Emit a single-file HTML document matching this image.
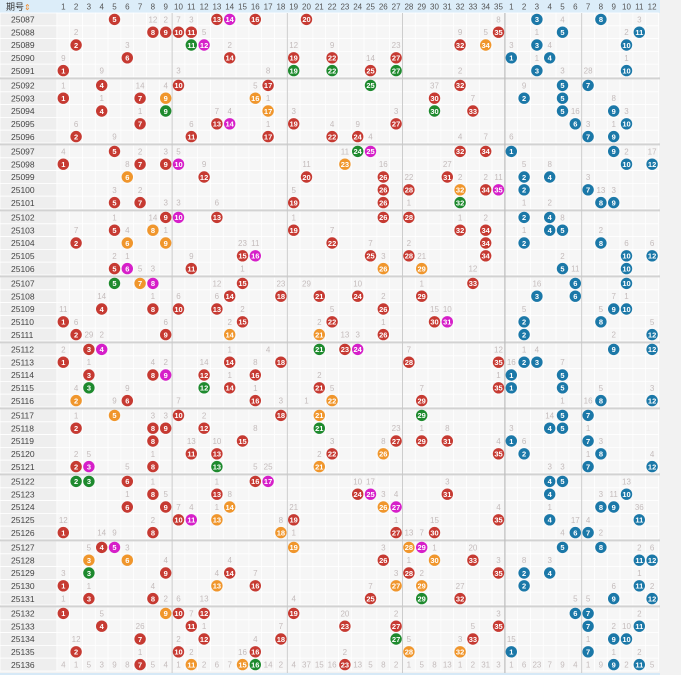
<!DOCTYPE html>
<html><head><meta charset="utf-8"><style>
html,body{margin:0;padding:0;background:#f2f2f2;width:681px;height:675px;overflow:hidden}
svg{display:block;font-family:"Liberation Sans","Noto Sans CJK SC",sans-serif}
</style></head><body>
<svg id="chart" width="681" height="675" viewBox="0 0 681 675"></svg>
<script>
const startPeriod = 25087;
const balls = [
"5r 13r 14m 16r 20r B3 B8","8r 9r 10r 11r 35r B5 B11","2r 11g 12m 32r 34o B3 B10","6r 14r 19r 22r 27r B1 B4","1r 19g 22g 25r 27g B3 B10",
"4r 10r 17r 25g 32r B5 B7","1r 7r 9o 16o 30r B2 B5","4r 9g 17o 30g 33r B5 B9","7r 13r 14m 19r 27r B6 B10","2r 11r 17r 22r 24r B7 B9",
"5r 24g 25m 32r 34r B1 B9","1r 7r 9r 10m 23o B10 B12","6o 12r 20r 26r 31r B2 B4","26r 28r 32o 34r 35m B2 B7","5r 7r 19r 26r 32g B8 B9",
"9r 10m 13r 26r 28r B2 B4","5r 8o 19r 32r 34r B4 B5","2r 6o 9o 22r 34r B2 B8","15r 16m 25r 28r 34r B10 B12","5r 6m 11r 26o 29o B5 B10",
"5g 7o 8m 15r 33r B6 B10","14r 18r 21r 24r 29r B3 B6","4r 8r 10r 13r 26r B9 B10","1r 15r 22r 30r 31m B2 B8","2r 9r 14o 21o 26r B2 B12",
"3r 4m 21g 23r 24m B9 B12","1r 14r 18r 28r 35r B2 B3","3r 8r 9m 12r 16r B1 B5","3g 12g 14r 21r 35r B1 B5","2o 6r 16r 22o 29r B8 B12",
"5o 10r 18r 21o 29g B5 B7","2r 8r 9r 12r 21g B4 B5","8r 15r 27r 29r 31r B1 B7","11r 13r 22r 26o 35r B2 B8","2r 3m 8r 13g 21o B7 B12",
"2g 3g 6r 16r 17m B4 B5","8r 13r 24r 25m 31r B4 B10","6r 9r 14o 26o 27m B8 B9","10r 11m 13o 19r 35r B4 B11","1r 8r 18o 27r 30r B6 B7",
"4r 5m 19o 28o 29m B5 B8","3o 6o 26r 30o 33r B11 B12","3g 9r 14r 28r 35r B2 B4","1r 13o 16r 27o 29o B2 B11","3r 8r 25r 29g 32r B9 B12",
"1r 9o 10r 12r 19r B6 B7","4r 11r 23r 27r 35r B7 B11","7r 12r 18r 27g 33r B9 B10","2r 10r 16r 28o 32o B1 B7","7r 11o 15o 16g 23r B9 B11"
];
const misses = [
"8:12 9:2 10:7 11:3 35:8 B5:4 B11:3","2:2 12:5 32:9 34:5 B3:1 B10:2","6:3 14:2 19:12 22:9 27:23 B1:3 B4:4","1:9 25:14 B3:1 B10:1","4:9 10:3 17:8 32:2 B5:3 B7:28",
"1:1 7:14 9:4 16:5 30:37 B2:9","4:1 17:1 33:7 B9:8","7:1 13:7 14:4 19:3 27:3 B6:16 B10:3","2:6 11:6 17:1 22:4 24:9 B7:3 B9:1","5:9 25:4 32:4 34:7 B1:6",
"1:4 7:2 9:3 10:5 23:11 B10:2 B12:17","6:8 12:9 20:11 26:16 31:27 B2:5 B4:8","28:22 32:2 34:2 35:11 B7:3","5:3 7:2 19:5 B8:13 B9:3","9:3 10:3 13:6 28:1 B2:1 B4:2",
"5:1 8:14 19:1 32:1 34:2 B5:8","2:7 6:4 9:1 22:7 B2:1 B8:2","15:23 16:11 25:7 28:2 B10:6 B12:6","5:2 6:1 11:9 26:3 29:21 B5:2","7:5 8:3 15:1 33:12 B6:11",
"13:12 18:23 20:29 24:10 29:1 B3:16","4:14 8:1 10:6 13:6 26:2 B9:7 B10:1","1:11 15:2 22:5 30:15 31:10 B2:5 B8:5","2:6 9:6 14:2 21:2 26:1 B12:5","3:29 4:2 23:13 24:3 B9:2",
"1:2 14:1 17:4 28:7 35:12 B2:1 B3:4","3:1 8:4 9:2 12:14 16:8 B1:16 B5:7","14:1 21:2 35:1","2:4 6:9 16:1 22:5 29:7 B8:5 B12:3","5:9 10:7 18:3 20:1 B5:1 B7:16",
"2:1 8:3 9:3 12:2 B4:14","16:8 27:23 29:1 31:8 B1:3 B7:1","11:13 13:10 22:3 26:8 35:4 B2:6 B8:3","2:2 3:5 8:1 21:2 B7:1 B12:4","6:5 16:5 17:25 B4:3 B5:3",
"8:1 13:1 24:10 25:17 31:3 B10:13","6:1 9:5 14:8 26:3 27:4 B8:3 B9:11","10:7 11:4 13:1 19:21 35:4 B4:1 B11:36","1:12 8:2 18:8 27:1 30:15 B6:17 B7:4","4:14 5:9 19:1 28:13 29:7 B5:4 B8:2",
"3:5 6:3 26:3 30:1 33:20 B11:2 B12:6","9:4 14:4 28:1 35:3 B2:8 B4:3","1:3 13:4 16:7 27:3 29:2 B11:1","3:1 8:4 25:7 32:27 B9:6 B12:2","1:1 9:2 10:6 12:13 19:4 B6:5 B7:5",
"4:5 11:7 23:20 27:2 35:3 B11:2","7:26 12:1 18:7 33:5 B9:2 B10:10","2:12 10:2 16:4 28:5 32:3 B1:15 B7:1","7:1 11:2 15:16 23:2 B9:1 B11:2",
"1:4 2:1 3:5 4:3 5:9 6:8 8:5 9:4 10:1 12:2 13:6 14:7 17:14 18:2 19:4 20:37 21:15 22:16 24:13 25:5 26:8 27:2 28:1 29:5 30:8 31:13 32:1 33:2 34:31 35:3 B1:1 B2:6 B3:23 B4:7 B5:9 B6:4 B7:1 B8:9 B10:2 B12:5"
];
const colors = {r:"#c63a32",g:"#1e8a2e",m:"#d61fc9",o:"#f0962c",b:"#1b78a8"};
const NS="http://www.w3.org/2000/svg";
const svg=document.getElementById('chart');
const X0=56.9, CW=12.8, HDR=13, RH=12.8, GH=66;
function colX(c){return X0+(c-1)*CW+CW/2;}
function rowTop(i){return HDR+Math.floor(i/5)*GH+(i%5)*RH;}
function parseCol(s){return s[0]==='B'?35+parseInt(s.slice(1)):parseInt(s);}
function mk(tag,attrs){const e=document.createElementNS(NS,tag);for(const k in attrs)e.setAttribute(k,attrs[k]);svg.appendChild(e);return e;}
// background
let bg=mk('rect',{x:0,y:0,width:681,height:675,fill:'#f2f2f2'});


let hdr=mk('rect',{x:0,y:0,width:660,height:HDR,fill:'#dcedf9'});


let ht=mk('text',{x:6,y:10,'font-size':9,fill:'#333'});ht.textContent='期号';


let si=mk('text',{x:24,y:10,'font-size':8,fill:'#f08a2c'});si.textContent='⇕';


for(let c=1;c<=47;c++){
  const t=mk('text',{x:colX(c),y:9.5,'font-size':8,fill:'#555','text-anchor':'middle'});
  t.textContent=c<=35?c:c-35;
  
  
}
for(let i=0;i<balls.length;i++){
  const top=rowTop(i);
  const pc=mk('rect',{x:0,y:top,width:X0,height:RH,fill:'#eeeeee',stroke:'#fff','stroke-width':0.8});
  
  
  for(let c=1;c<=47;c++){
    const r=mk('rect',{x:X0+(c-1)*CW,y:top,width:CW,height:RH,fill:'#f6f6f6',stroke:'#fff','stroke-width':0.8});
    
    
  }
  const pt=mk('text',{x:11,y:top+9.6,'font-size':8.5,fill:'#444'});pt.textContent=startPeriod+i;
  
  
}
// group separators
for(let g=1;g<10;g++){
  const y=HDR+g*GH-1;
  const l=mk('rect',{x:0,y:y-0.6,width:660,height:2,fill:'#d2d2d2'});
  
  
}
// vertical dividers
[9,18,27,35,41].forEach(c=>{
  const x=X0+c*CW;
  const l=mk('line',{x1:x,y1:HDR,x2:x,y2:673,stroke:c===35?'#bdbdbd':'#c8c8c8','stroke-width':c===35?1.2:0.9});
  
  
});
const bs=mk('rect',{x:0,y:673,width:660,height:2,fill:'#d6e9f7'});


for(let i=0;i<balls.length;i++){
  const cy=rowTop(i)+RH/2;
  misses[i].split(' ').forEach(s=>{
    const [c,v]=s.split(':');
    const t=mk('text',{x:colX(parseCol(c)),y:cy+3,'font-size':8,fill:'#c4bcbc','text-anchor':'middle'});
    t.textContent=v;
    
    
  });
  balls[i].split(' ').forEach(s=>{
    let c,col;
    if(s[0]==='B'){c=35+parseInt(s.slice(1));col=colors.b;}
    else{c=parseInt(s);col=colors[s.slice(-1)];}
    const cx=colX(c);
    const ci=mk('circle',{cx:cx,cy:cy,r:5.7,fill:col});
    
    
    const t=mk('text',{x:cx,y:cy+2.8,'font-size':7.5,'font-weight':'bold',fill:'#fff','text-anchor':'middle'});
    t.textContent=c<=35?c:c-35;
    
    
  });
}
</script>
</body></html>
